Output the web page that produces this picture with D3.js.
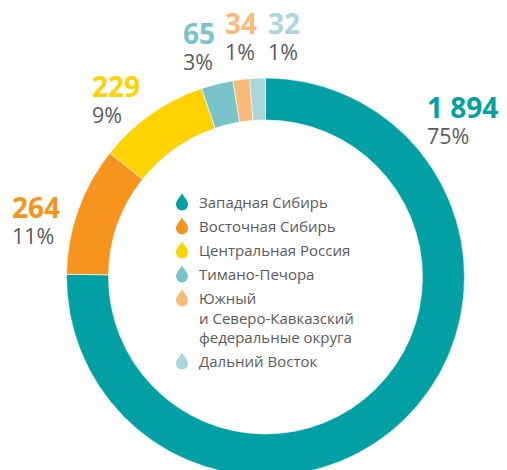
<!DOCTYPE html>
<html>
<head>
<meta charset="utf-8">
<script src="https://cdn.jsdelivr.net/npm/d3@7"></script>
<style>
  body { margin: 0; background: #fff; }
  svg { display: block; }
</style>
</head>
<body>
<div id="chart"></div>
<script>
const WIDTH = 507
const HEIGHT = 470

// data
const regions = ['Западная Сибирь', 'Восточная Сибирь', 'Центральная Россия', 'Тимано-Печора',
    'Южный\nи Северо-Кавказский\nфедеральные округа', 'Дальний Восток'];
const values = [1894, 264, 229, 65, 34, 32];
const valueLabels = ['1 894', '264', '229', '65', '34', '32'];
const shareLabels = ['75%', '11%', '9%', '3%', '1%', '1%'];

const COLORS = ['#00a0a4', '#f7941d', '#ffd200', '#79c4cb', '#fbbb78', '#acd6dc'];
const TEXT_GREY = '#5b5b5b';
const FONT = '"Open Sans", "DejaVu Sans", sans-serif';

// where each value label sits (left x, baseline of number)
const labelPos = [[427, 118], [12, 218], [92, 97], [183, 44], [225, 34], [268, 34]];

var svg = d3.select("#chart").append("svg")
    .attr("width", WIDTH)
    .attr("height", HEIGHT);

const cx = 265.5, cy = 277;

var pie = d3.pie().sort(null).value(d => d);
var arc = d3.arc().innerRadius(157).outerRadius(199);

var ring = svg.append("g").attr("transform", `translate(${cx},${cy})`);

ring.selectAll("path")
    .data(pie(values))
    .enter()
    .append("path")
    .attr("d", arc)
    .attr("fill", (d, i) => COLORS[i])
    .attr("stroke", "#fff")
    .attr("stroke-width", 0.6);

// value + share labels
var labels = svg.append("g").attr("font-family", FONT);
values.forEach((v, i) => {
    labels.append("text")
        .attr("x", labelPos[i][0])
        .attr("y", labelPos[i][1])
        .attr("font-size", "28px")
        .attr("font-weight", "bold")
        .attr("fill", COLORS[i])
        .text(valueLabels[i]);
    labels.append("text")
        .attr("x", labelPos[i][0])
        .attr("y", labelPos[i][1] + 26)
        .attr("font-size", "21.5px")
        .attr("fill", TEXT_GREY)
        .text(shareLabels[i]);
});

// legend
const dropPath = "M0,-8.5 C2,-5 6,-1.5 6,2.5 A6,6 0 0 1 -6,2.5 C-6,-1.5 -2,-5 0,-8.5 Z";
var legend = svg.append("g")
    .attr("font-family", FONT)
    .attr("font-size", "15px")
    .attr("fill", TEXT_GREY);

let y = 208;
regions.forEach((name, i) => {
    let item = legend.append("g").attr("transform", `translate(0,${y})`);
    item.append("path")
        .attr("d", dropPath)
        .attr("transform", "translate(182,-6)")
        .attr("fill", COLORS[i]);
    let lines = name.split("\n");
    let t = item.append("text").attr("x", 199);
    lines.forEach((ln, j) => {
        t.append("tspan").attr("x", 199).attr("dy", j ? 19.5 : 0).text(ln);
    });
    y += 24 + (lines.length - 1) * 19.5;
});
</script>
</body>
</html>
